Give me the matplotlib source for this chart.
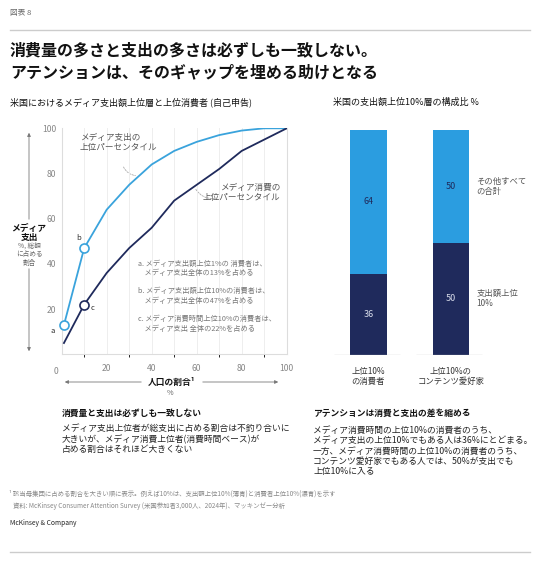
import matplotlib
matplotlib.use("Agg")
import matplotlib.pyplot as plt
from matplotlib.patches import FancyArrowPatch

plt.rcParams['font.family'] = ['Noto Sans CJK JP', 'DejaVu Sans']

# --- data ---
pop_share = [1, 10, 20, 30, 40, 50, 60, 70, 80, 90, 100]
spend_top = [13, 47, 64, 75, 84, 90, 94, 97, 99, 100, 100]
consume_top = [5, 22, 36, 47, 56, 68, 75, 82, 90, 95, 100]
x_ticks = [0, 20, 40, 60, 80, 100]
y_ticks = [20, 40, 60, 80, 100]

bar_groups = ['上位10%\nの消費者', '上位10%の\nコンテンツ愛好家']
top10_spend = [36, 50]
all_others = [64, 50]

LIGHT = '#2b9de0'
LINE_LIGHT = '#3aa3dc'
NAVY = '#1f2a5c'

W, H = 536, 568
fig = plt.figure(figsize=(W / 100, H / 100), dpi=100)


def ftxt(x, y, s, **kw):
    # place text using pixel coords measured from the top-left
    return fig.text(x / W, 1 - y / H, s, **kw)


def fline(x0, x1, y, **kw):
    fig.add_artist(plt.Line2D([x0 / W, x1 / W], [1 - y / H, 1 - y / H], **kw))


# header
ftxt(10, 13, '図表 8', fontsize=5.5, color='#666666', va='center')
fline(10, 530, 30, color='#cccccc', lw=1.0)
ftxt(10, 50, '消費量の多さと支出の多さは必ずしも一致しない。', fontsize=11.5,
     fontweight='bold', va='center', color='#111111')
ftxt(10, 72, 'アテンションは、そのギャップを埋める助けとなる', fontsize=11.5,
     fontweight='bold', va='center', color='#111111')
ftxt(10, 102, '米国におけるメディア支出額上位層と上位消費者 (自己申告)', fontsize=6.5,
     va='center', color='#111111')
ftxt(333, 102, '米国の支出額上位10%層の構成比 %', fontsize=6.5, va='center',
     color='#111111')

# --- line chart ---
ax = fig.add_axes([61.7 / W, 1 - 354.3 / H, 225 / W, 226 / H])
ax.plot(pop_share, spend_top, color=LINE_LIGHT, lw=1.3, zorder=3)
ax.plot(pop_share, consume_top, color=NAVY, lw=1.3, zorder=3)
ax.plot(pop_share[0], spend_top[0], 'o', ms=6.5, mfc='white', mec=LINE_LIGHT,
        mew=1.2, zorder=4, clip_on=False)
ax.plot(pop_share[1], spend_top[1], 'o', ms=6.5, mfc='white', mec=LINE_LIGHT,
        mew=1.2, zorder=4)
ax.plot(pop_share[1], consume_top[1], 'o', ms=6.5, mfc='white', mec=NAVY,
        mew=1.2, zorder=4)
ax.text(pop_share[0] - 5, spend_top[0] - 2.5, 'a', fontsize=5.5, color='#333333',
        ha='center', va='center')
ax.text(pop_share[1] - 2.5, spend_top[1] + 4.5, 'b', fontsize=5.5, color='#333333',
        ha='center', va='center')
ax.text(pop_share[1] + 3.5, consume_top[1] - 1.5, 'c', fontsize=5.5,
        color='#333333', ha='center', va='center')

ax.set_xlim(0, 100)
ax.set_ylim(0, 100)
ax.set_xticks(x_ticks)
ax.set_yticks(y_ticks)
ax.set_xticks(range(10, 100, 10), minor=True)
ax.grid(axis='x', which='both', color='#eeeeee', lw=0.7)
ax.tick_params(length=0, labelsize=6.2, labelcolor='#888888')
ax.tick_params(axis='x', pad=7)
ax.tick_params(axis='y', pad=4)
ax.set_xticklabels(['  '] + [str(t) for t in x_ticks[1:]])
ax.spines['top'].set_visible(False)
for s in ['left', 'bottom', 'right']:
    ax.spines[s].set_color('#dddddd')
    ax.spines[s].set_linewidth(0.8)
ax.text(-2.5, -5.5, '0', fontsize=6.2, color='#888888', ha='center', va='top')

ax.text(8, 98, 'メディア支出の\n上位パーセンタイル', fontsize=6.2, color='#555555',
        va='top', linespacing=1.2)
ax.text(97, 76, 'メディア消費の\n上位パーセンタイル', fontsize=6.2, color='#555555',
        va='top', ha='right', linespacing=1.2)
ax.add_patch(FancyArrowPatch((27, 84), (34, 79), arrowstyle='-',
                             connectionstyle='arc3,rad=0.35', ls=(0, (2, 1.5)),
                             color='#aaaaaa', lw=0.6))
ax.add_patch(FancyArrowPatch((59, 74), (69, 69), arrowstyle='-',
                             connectionstyle='arc3,rad=0.35', ls=(0, (2, 1.5)),
                             color='#aaaaaa', lw=0.6))

notes = ['a. メディア支出額上位1%の 消費者は、\n    メディア支出全体の13%を占める',
         'b. メディア支出額上位10%の消費者は、\n    メディア支出全体の47%を占める',
         'c. メディア消費時間上位10%の消費者は、\n    メディア支出 全体の22%を占める']
for i, n in enumerate(notes):
    ax.text(34, 42 - i * 12.3, n, fontsize=5.2, color='#777777', va='top',
            linespacing=1.35)

# y axis label with arrow
fig.add_artist(FancyArrowPatch((29 / W, 1 - 222 / H), (29 / W, 1 - 130 / H),
                               transform=fig.transFigure, arrowstyle='-|>',
                               mutation_scale=5, color='#777777', lw=0.6))
fig.add_artist(FancyArrowPatch((29 / W, 1 - 266 / H), (29 / W, 1 - 354 / H),
                               transform=fig.transFigure, arrowstyle='-|>',
                               mutation_scale=5, color='#777777', lw=0.6))
ftxt(29, 233, 'メディア\n支出', fontsize=6.3, fontweight='bold', ha='center',
     va='center', linespacing=1.1, color='#111111')
ftxt(29, 254, '%, 総額\nに占める\n割合', fontsize=4.8, ha='center', va='center',
     linespacing=1.1, color='#666666')

# x axis label with arrow
fig.add_artist(FancyArrowPatch((144 / W, 1 - 382 / H), (62 / W, 1 - 382 / H),
                               transform=fig.transFigure, arrowstyle='-|>',
                               mutation_scale=5, color='#777777', lw=0.6))
fig.add_artist(FancyArrowPatch((200 / W, 1 - 382 / H), (281 / W, 1 - 382 / H),
                               transform=fig.transFigure, arrowstyle='-|>',
                               mutation_scale=5, color='#777777', lw=0.6))
ftxt(172, 382, '人口の割合¹', fontsize=6.3, fontweight='bold', ha='center',
     va='center', color='#111111')
ftxt(170, 393, '%', fontsize=5.2, ha='center', va='center', color='#666666')

# --- stacked bars ---
bx = fig.add_axes([330 / W, 1 - 355 / H, 160 / W, 225 / H])
pos = [0, 1]
bx.bar(pos, top10_spend, width=0.444, color=NAVY)
bx.bar(pos, all_others, width=0.444, bottom=top10_spend, color=LIGHT)
for p, a, b in zip(pos, top10_spend, all_others):
    bx.text(p, a / 2, str(a), ha='center', va='center', fontsize=6.5,
            color='#d8dcea')
    bx.text(p, a + b / 2, str(b), ha='center', va='center', fontsize=6.5,
            color=NAVY)
    bx.hlines(0, p - 0.42, p + 0.38, color='#bbbbbb', lw=0.9)
bx.set_xlim(-0.463, 1.472)
bx.set_ylim(0, 100)
bx.axis('off')
for p, g in zip(pos, bar_groups):
    bx.text(p, -5.5, g, ha='center', va='top', fontsize=6, color='#333333',
            linespacing=1.15)
bx.text(1.31, 75, 'その他すべて\nの合計', fontsize=6, color='#555555',
        va='center', linespacing=1.2)
bx.text(1.31, 25, '支出額上位\n10%', fontsize=6, color='#555555',
        va='center', linespacing=1.2)

# --- bottom commentary ---
ftxt(62, 413, '消費量と支出は必ずしも一致しない', fontsize=6.3, fontweight='bold',
     va='center', color='#111111')
ftxt(62, 439, 'メディア支出上位者が総支出に占める割合は不釣り合いに\n'
     '大きいが、メディア消費上位者(消費時間ベース)が\n'
     '占める割合はそれほど大きくない', fontsize=6.3, va='center',
     linespacing=1.15, color='#222222')
ftxt(313, 413, 'アテンションは消費と支出の差を縮める', fontsize=6.3,
     fontweight='bold', va='center', color='#111111')
ftxt(313, 451, 'メディア消費時間の上位10%の消費者のうち、\n'
     'メディア支出の上位10%でもある人は36%にとどまる。\n'
     '一方、メディア消費時間の上位10%の消費者のうち、\n'
     'コンテンツ愛好家でもある人では、50%が支出でも\n'
     '上位10%に入る', fontsize=6.3, va='center', linespacing=1.15,
     color='#222222')

ftxt(9, 494, '¹ 該当母集団に占める割合を大きい順に表示。例えば10%は、支出額上位10%(薄青)と消費者上位10%(濃青)を示す',
     fontsize=4.6, va='center', color='#888888')
ftxt(13, 506, '資料: McKinsey Consumer Attention Survey (米国参加者3,000人、2024年)、マッキンゼー分析',
     fontsize=4.6, va='center', color='#888888')
ftxt(10, 523, 'McKinsey & Company', fontsize=4.8, va='center', color='#222222')
fline(10, 530, 552, color='#cccccc', lw=1.0)

fig.savefig('out.png', dpi=100)
